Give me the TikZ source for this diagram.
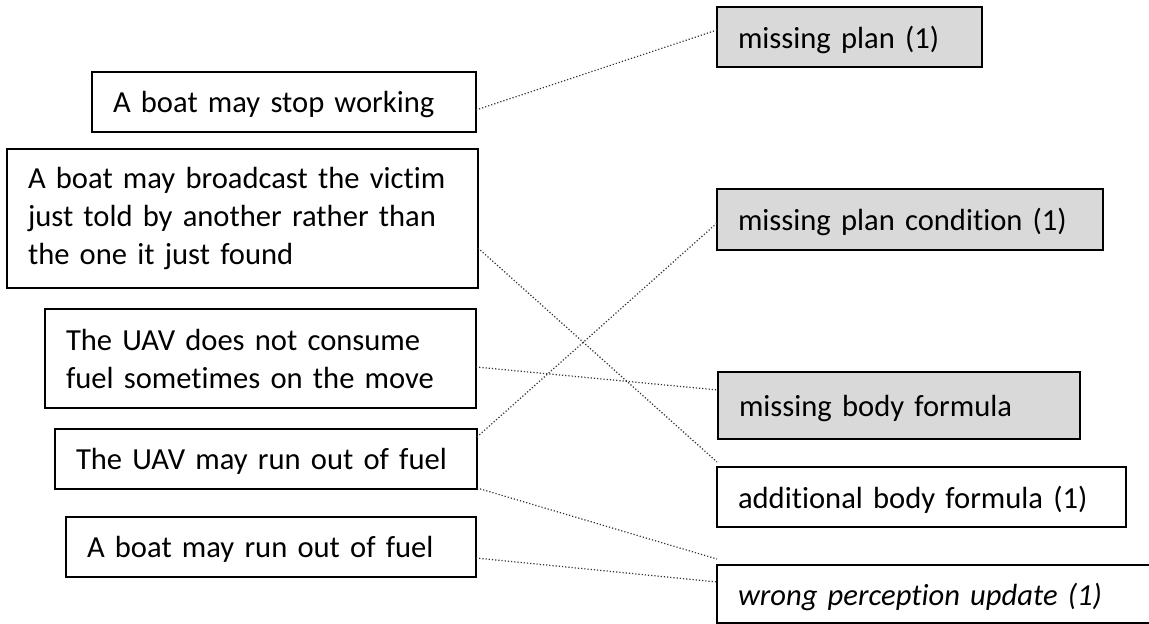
\documentclass[tikz,border=0pt]{standalone}
\usepackage{fontspec}
\setmainfont{Carlito}[Ligatures=NoCommon]
\usetikzlibrary{calc}
\begin{document}
\begin{tikzpicture}[x=0.5pt,y=-0.5pt,
  box/.style={draw=black, line width=0.9pt, inner xsep=10.5pt, inner ysep=0pt,
    outer sep=0pt, align=left, anchor=north west,
    font=\fontsize{15.3pt}{19pt}\selectfont,
    execute at begin node={\hyphenpenalty=10000\exhyphenpenalty=10000}},
  oneline/.style={text depth=-1.5pt},
  gbox/.style={box, fill=black!15},
  conn/.style={densely dotted, line width=0.6pt, black!80}]
\clip (0,0) rectangle (1149,624);
\fill[white] (0,0) rectangle (1149,624);
% left boxes
\node[box, oneline, minimum width=192pt, minimum height=30pt, text width=171pt] (A) at (92,72) {A boat may stop working};
\node[box, minimum width=235.5pt, minimum height=69.5pt, text width=214.5pt] (B) at (7,149) {A boat may broadcast the victim\\just told by another rather than\\the one it just found};
\node[box, minimum width=215.5pt, minimum height=49.5pt, text width=194.5pt] (C) at (45,309) {The UAV does not consume\\fuel sometimes on the move};
\node[box, oneline, minimum width=211pt, minimum height=30pt, text width=190pt] (D) at (55,429) {The UAV may run out of fuel};
\node[box, oneline, minimum width=205pt, minimum height=30pt, text width=184pt] (E) at (66,517) {A boat may run out of fuel};
% right boxes
\node[gbox, oneline, minimum width=132.5pt, minimum height=30pt, text width=111.5pt] (R1) at (717,7) {missing plan (1)};
\node[gbox, oneline, minimum width=193pt, minimum height=30.5pt, text width=172pt] (R2) at (717,189) {missing plan condition (1)};
\node[gbox, oneline, minimum width=181pt, minimum height=33.5pt, text width=160pt] (R3) at (718,372) {missing body formula};
\node[box, oneline, minimum width=204.5pt, minimum height=30pt, text width=183.5pt] (R4) at (717,467) {additional body formula (1)};
\node[box, oneline, minimum width=235pt, minimum height=29pt, text width=214pt] (R5) at (717,565) {\itshape wrong perception update (1)};
% connectors
\draw[conn] ($(A.east)+(0,8)$) -- ($(R1.west)+(0,-7)$);
\draw[conn] ($(B.east)+(0,29.5)$) -- ($(R4.north west)+(0,-5)$);
\draw[conn] ($(C.east)+(0,8.5)$) -- ($(R3.west)+(0,-15.5)$);
\draw[conn] ($(D.north east)+(0,8)$) -- ($(R2.west)+(0,3.5)$);
\draw[conn] ($(D.south east)+(0,-1)$) -- ($(R5.north west)+(0,-6)$);
\draw[conn] ($(E.east)+(0,11)$) -- ($(R5.west)+(0,-12)$);
\end{tikzpicture}
\end{document}
